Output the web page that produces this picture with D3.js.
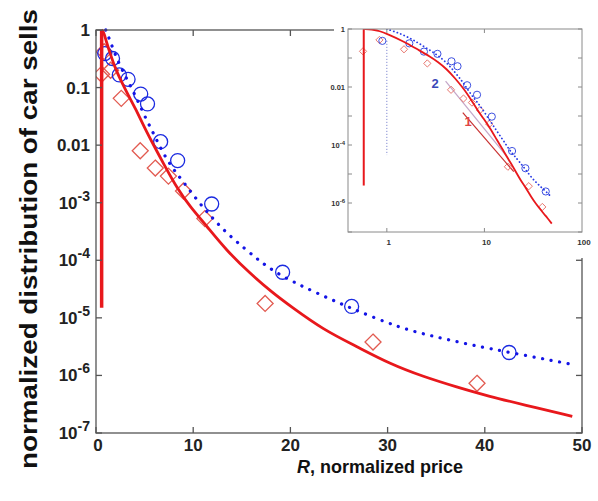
<!DOCTYPE html>
<html>
<head>
<meta charset="utf-8">
<script src="https://cdn.jsdelivr.net/npm/d3@7"></script>
<style>
  body { margin: 0; background: #fff; }
  svg { display: block; }
  text { font-family: "Liberation Sans", Arial, sans-serif; }
</style>
</head>
<body>
<script>
// model curve 1 (red, solid)
const redX = [0.58, 0.7, 0.85, 1.0, 1.5, 2.0, 2.8, 3.3, 4.1, 5.0, 6.0, 6.8, 8.5, 9.7, 11.4, 13.4, 15.8, 18.2, 20.0, 23.4, 26.8, 30.2, 33.7, 37.1, 40.5, 44.0, 49.0];
const redY = [1.0, 0.97, 0.85, 0.68, 0.37, 0.21, 0.11, 0.075, 0.042, 0.02, 0.0095, 0.0053, 1.6e-3, 8.5e-4, 3.9e-4, 1.5e-4, 6e-5, 2.7e-5, 1.6e-5, 6.2e-6, 3.2e-6, 1.6e-6, 9.5e-7, 6.3e-7, 4.3e-7, 3.1e-7, 1.95e-7];
const redDropMain = 1.5e-5, redDropInset = 4e-6;

// model curve 2 (blue, dotted)
const blueX = [1.0, 1.3, 1.7, 2.2, 3.2, 4.1, 5.0, 6.0, 6.9, 8.1, 9.0, 10.4, 11.9, 13.5, 15.3, 16.9, 18.4, 20.3, 22.7, 26.1, 31.3, 34.7, 38.5, 42.9, 48.6];
const blueY = [1.0, 0.75, 0.5, 0.3, 0.137, 0.07, 0.032, 0.015, 0.0072, 0.0035, 0.0023, 0.0011, 5.6e-4, 2.9e-4, 1.6e-4, 9.5e-5, 6.3e-5, 4.2e-5, 2.7e-5, 1.5e-5, 6.6e-6, 4.8e-6, 3.4e-6, 2.45e-6, 1.6e-6];

// data: circles (blue) and diamonds (red)
const circX = [0.9, 1.7, 2.4, 3.3, 4.6, 5.3, 6.65, 8.4, 11.9, 19.2, 26.3, 42.5];
const circY = [0.39, 0.32, 0.166, 0.139, 0.077, 0.052, 0.0115, 0.0054, 9.5e-4, 6.2e-5, 1.58e-5, 2.5e-6];
const diaX = [0.57, 0.84, 1.5, 2.6, 4.55, 6.1, 7.45, 9.0, 11.2, 17.4, 28.5, 39.2];
const diaY = [0.17, 0.42, 0.2, 0.065, 0.008, 0.004, 0.0029, 0.0016, 5.3e-4, 1.78e-5, 3.8e-6, 7.3e-7];

// power-law guide lines in the inset
const fit1X = [6.0, 20.0], fit1Y = [1.3e-3, 1.2e-5];
const fit2X = [4.0, 17.0], fit2Y = [0.016, 4e-5];

const xTicks = [0, 10, 20, 30, 40, 50];
const yTicks = [1, 0.1, 0.01, 1e-3, 1e-4, 1e-5, 1e-6, 1e-7];
const yLabels = [['1'], ['0.1'], ['0.01'], ['10', '-3'], ['10', '-4'], ['10', '-5'], ['10', '-6'], ['10', '-7']];
const ixTicks = [1, 10, 100];
const iyLabelVals = [1, 0.01, 1e-4, 1e-6];
const iyLabels = [['1'], ['0.01'], ['10', '-4'], ['10', '-6']];

const RED = '#e8181c', BLUE = '#1414e6';

const svg = d3.select('body').append('svg')
    .attr('width', 598).attr('height', 501);

const x = d3.scaleLinear().domain([0, 50]).range([96, 582]);
const y = d3.scaleLog().domain([1e-7, 1]).range([433, 30]);

const diamond = (cx, cy, r) => `M${cx},${cy - r}L${cx + r},${cy}L${cx},${cy + r}L${cx - r},${cy}Z`;

// ---- main plot ----
const defs = svg.append('defs');
defs.append('clipPath').attr('id', 'mainClip').append('rect')
    .attr('x', 96).attr('y', 28).attr('width', 486).attr('height', 405);

const main = svg.append('g').attr('clip-path', 'url(#mainClip)');

main.selectAll('path.dia').data(diaX).join('path')
    .attr('class', 'dia')
    .attr('d', (d, i) => diamond(x(d), y(diaY[i]), 8))
    .attr('fill', 'none').attr('stroke', '#e25a50').attr('stroke-width', 1.3);

main.selectAll('circle').data(circX).join('circle')
    .attr('cx', d => x(d)).attr('cy', (d, i) => y(circY[i])).attr('r', 7)
    .attr('fill', 'none').attr('stroke', '#1a2ae0').attr('stroke-width', 1.3);

const lineMain = d3.line().x(d => x(d[0])).y(d => y(d[1])).curve(d3.curveBasis);

main.append('line')
    .attr('x1', x(redX[0])).attr('x2', x(redX[0]))
    .attr('y1', y(1)).attr('y2', y(redDropMain))
    .attr('stroke', RED).attr('stroke-width', 3.5);

main.append('path')
    .attr('d', lineMain(redX.map((d, i) => [d, redY[i]])))
    .attr('fill', 'none').attr('stroke', RED).attr('stroke-width', 2.8);

main.append('path')
    .attr('d', lineMain(blueX.map((d, i) => [d, blueY[i]])))
    .attr('fill', 'none').attr('stroke', BLUE).attr('stroke-width', 3.2)
    .attr('stroke-linecap', 'round').attr('stroke-dasharray', '0.1 8.6');

// frame and ticks
const frame = svg.append('g').attr('stroke', '#555').attr('stroke-width', 1.3);
frame.append('rect').attr('x', 96).attr('y', 30).attr('width', 486).attr('height', 403).attr('fill', 'none');
frame.selectAll('line.xt').data(xTicks).join('line')
    .attr('x1', d => x(d)).attr('x2', d => x(d)).attr('y1', 433).attr('y2', 427);
frame.selectAll('line.xtt').data(xTicks).join('line')
    .attr('x1', d => x(d)).attr('x2', d => x(d)).attr('y1', 30).attr('y2', 36);
frame.selectAll('line.yt').data(yTicks).join('line')
    .attr('x1', 96).attr('x2', 102).attr('y1', d => y(d)).attr('y2', d => y(d));
frame.selectAll('line.ytr').data(yTicks).join('line')
    .attr('x1', 582).attr('x2', 576).attr('y1', d => y(d)).attr('y2', d => y(d));

svg.selectAll('text.xl').data(xTicks).join('text')
    .attr('x', d => x(d) + (d === 0 ? 2 : 0)).attr('y', 451)
    .attr('text-anchor', 'middle').attr('font-size', 17).attr('font-weight', 'bold')
    .attr('fill', '#222').text(d => d);

const yl = svg.selectAll('text.yl').data(yTicks).join('text')
    .attr('x', 90).attr('y', d => y(d) + 6)
    .attr('text-anchor', 'end').attr('font-size', 17).attr('font-weight', 'bold').attr('fill', '#222');
yl.each(function(d, i) {
    const t = d3.select(this);
    const lab = yLabels[i];
    t.append('tspan').text(lab[0]);
    if (lab[1]) t.append('tspan').attr('dy', -8).attr('font-size', 14).text(lab[1]);
});

svg.append('text')
    .attr('transform', 'translate(37,239) rotate(-90)')
    .attr('text-anchor', 'middle').attr('font-size', 24).attr('font-weight', 'bold')
    .attr('fill', '#111').attr('textLength', 460).attr('lengthAdjust', 'spacingAndGlyphs')
    .text('normalized distribution of car sells');

const xt = svg.append('text')
    .attr('x', 380).attr('y', 473).attr('text-anchor', 'middle')
    .attr('font-size', 19).attr('font-weight', 'bold').attr('fill', '#111')
    .attr('textLength', 166).attr('lengthAdjust', 'spacingAndGlyphs');
xt.append('tspan').attr('font-style', 'italic').text('R');
xt.append('tspan').text(', normalized price');

// ---- inset ----
const ix = d3.scaleLog().domain([0.4, 100]).range([348, 582]);
const iy = d3.scaleLog().domain([1e-7, 1]).range([232, 29]);
const lineIn = d3.line().x(d => ix(d[0])).y(d => iy(d[1])).curve(d3.curveBasis);

const inset = svg.append('g');
inset.append('rect').attr('x', 334).attr('y', 0).attr('width', 264).attr('height', 258).attr('fill', '#fff');

defs.append('clipPath').attr('id', 'insetClip').append('rect')
    .attr('x', 348).attr('y', 29).attr('width', 234).attr('height', 203);
const ip = inset.append('g').attr('clip-path', 'url(#insetClip)');

ip.append('line')
    .attr('x1', ix(1)).attr('x2', ix(1)).attr('y1', iy(circY[0])).attr('y2', iy(4.5e-5))
    .attr('stroke', '#6a74c8').attr('stroke-width', 1).attr('stroke-dasharray', '1 2');

ip.append('path')
    .attr('d', lineIn(fit2X.map((d, i) => [d, fit2Y[i]])))
    .attr('stroke', '#c4a6c8').attr('stroke-width', 1.2).attr('fill', 'none');
ip.append('path')
    .attr('d', lineIn(fit1X.map((d, i) => [d, fit1Y[i]])))
    .attr('stroke', '#c83030').attr('stroke-width', 1.2).attr('fill', 'none');

ip.selectAll('path.idia').data(diaX).join('path')
    .attr('class', 'idia')
    .attr('d', (d, i) => diamond(ix(d), iy(diaY[i]), 3.6))
    .attr('fill', 'none').attr('stroke', '#e8766e').attr('stroke-width', 1);

ip.selectAll('circle').data(circX).join('circle')
    .attr('cx', d => ix(d)).attr('cy', (d, i) => iy(circY[i])).attr('r', 3.6)
    .attr('fill', 'none').attr('stroke', '#3d50e0').attr('stroke-width', 1);

ip.append('line')
    .attr('x1', ix(redX[0])).attr('x2', ix(redX[0]))
    .attr('y1', iy(1)).attr('y2', iy(redDropInset))
    .attr('stroke', RED).attr('stroke-width', 2);
ip.append('path')
    .attr('d', lineIn(redX.map((d, i) => [d, redY[i]])))
    .attr('fill', 'none').attr('stroke', RED).attr('stroke-width', 1.8);
ip.append('path')
    .attr('d', lineIn(blueX.map((d, i) => [d, blueY[i]])))
    .attr('fill', 'none').attr('stroke', '#2a3ce6').attr('stroke-width', 1.8)
    .attr('stroke-linecap', 'round').attr('stroke-dasharray', '0.1 3.6');

const iframe = inset.append('g').attr('stroke', '#8a8a8a').attr('stroke-width', 1);
iframe.append('rect').attr('x', 348).attr('y', 29).attr('width', 234).attr('height', 203).attr('fill', 'none');
iframe.selectAll('line.iyt').data(yTicks).join('line')
    .attr('x1', 348).attr('x2', 352).attr('y1', d => iy(d)).attr('y2', d => iy(d));
iframe.selectAll('line.iytr').data(yTicks).join('line')
    .attr('x1', 582).attr('x2', 578).attr('y1', d => iy(d)).attr('y2', d => iy(d));
iframe.selectAll('line.ixt').data([1, 10]).join('line')
    .attr('x1', d => ix(d)).attr('x2', d => ix(d)).attr('y1', 232).attr('y2', 228);
iframe.selectAll('line.ixtt').data([1, 10]).join('line')
    .attr('x1', d => ix(d)).attr('x2', d => ix(d)).attr('y1', 29).attr('y2', 33);

inset.selectAll('text.ixl').data(ixTicks).join('text')
    .attr('x', d => ix(d) + 2).attr('y', 245).attr('text-anchor', 'middle')
    .attr('font-size', 8).attr('font-weight', 'bold').attr('fill', '#333').text(d => d);

const iyl = inset.selectAll('text.iyl').data(iyLabelVals).join('text')
    .attr('x', 345).attr('y', d => iy(d) + 3)
    .attr('text-anchor', 'end').attr('font-size', 7.5).attr('font-weight', 'bold').attr('fill', '#333');
iyl.each(function(d, i) {
    const t = d3.select(this);
    const lab = iyLabels[i];
    t.append('tspan').text(lab[0]);
    if (lab[1]) t.append('tspan').attr('dy', -3).attr('font-size', 6).text(lab[1]);
});

inset.append('text').attr('x', 435).attr('y', 88).attr('text-anchor', 'middle')
    .attr('font-size', 13).attr('font-weight', 'bold').attr('fill', '#3a48b8').text('2');
inset.append('text').attr('x', 468).attr('y', 126).attr('text-anchor', 'middle')
    .attr('font-size', 13).attr('font-weight', 'bold').attr('fill', '#e04444').text('1');
</script>
</body>
</html>
